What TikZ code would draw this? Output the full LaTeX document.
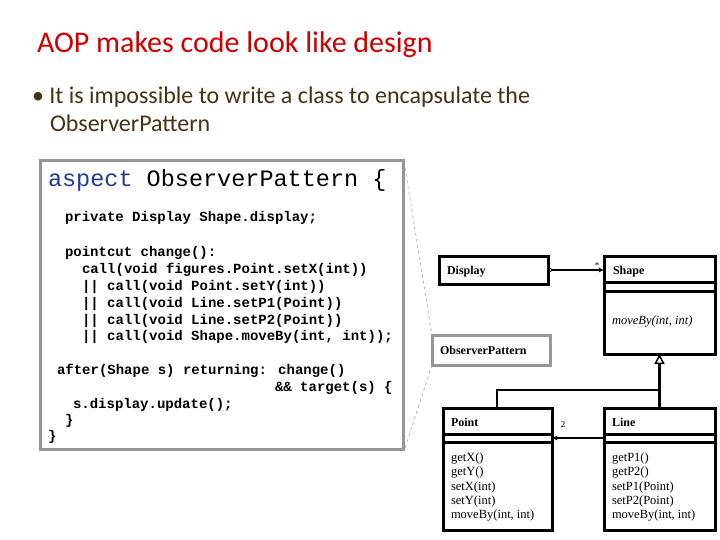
\documentclass[tikz,border=0pt]{standalone}
\usepackage{fontspec}
\usepackage{tikz}
\usetikzlibrary{arrows.meta, positioning}
\setmainfont{Carlito}
\newfontfamily\codefont{Liberation Mono}
\newfontfamily\umlfont{Liberation Serif}
\definecolor{aoptitle}{RGB}{204, 0, 0}
\definecolor{aoptext}{RGB}{72, 50, 20}
\definecolor{aopkey}{RGB}{30, 60, 150}
\definecolor{aopgray}{RGB}{150, 150, 150}

\begin{document}
\begin{tikzpicture}[
    x=1pt, y=-1pt,
    every node/.style={inner sep=0pt, outer sep=0pt},
    codeline/.style={anchor=base west, font=\codefont\bfseries\fontsize{14}{16}\selectfont},
    umlbox/.style={draw, line width=3pt, anchor=north west},
    umltext/.style={anchor=base west, font=\umlfont\fontsize{12.5}{14.3}\selectfont},
    umlname/.style={umltext, font=\umlfont\bfseries\fontsize{12}{14}\selectfont},
    assoc/.style={line width=2.5pt, {Diamond[open, length=5pt, width=4pt, line width=0.8pt]}-{Latex[length=5pt, width=5pt]}},
    navig/.style={line width=2.5pt, -{Latex[length=5pt, width=5pt]}},
    gen/.style={line width=2.5pt, -{Triangle[open, length=10pt, width=10pt, line width=1.5pt]}},
    note/.style={aopgray, dashed, line width=0.5pt}
]
\useasboundingbox (0,0) rectangle (720,540);

% Title and bullet
\node[anchor=base west, text=aoptitle, font=\fontsize{30}{34}\selectfont] (title) at (37,53) {AOP makes code look like design};
\node[anchor=base west, text=aoptext, font=\fontsize{24}{28}\selectfont] (bullet) at (32,104) {\textbullet\ It is impossible to write a class to encapsulate the};
\node[anchor=base west, text=aoptext, font=\fontsize{24}{28}\selectfont] (bullet2) at (50,132) {ObserverPattern};

% Aspect code
\node[draw=aopgray, line width=3pt, fill=white, anchor=north west, minimum width=363pt, minimum height=288pt] (code) at (40,161) {};
\node[anchor=base west, font=\codefont\fontsize{23.5}{26}\selectfont] (head) at (48,187) {\textcolor{aopkey}{aspect} ObserverPattern \{};
\node[codeline] (c1) at (65,222) {private Display Shape.display;};
\node[codeline] (c2) at (65,256) {pointcut change():};
\node[codeline] (c3) at (82,273) {call(void figures.Point.setX(int))};
\node[codeline] (c4) at (82,290) {|| call(void Point.setY(int))};
\node[codeline] (c5) at (82,307) {|| call(void Line.setP1(Point))};
\node[codeline] (c6) at (82,324) {|| call(void Line.setP2(Point))};
\node[codeline] (c7) at (82,340) {|| call(void Shape.moveBy(int, int));};
\node[codeline] (c8) at (57,374) {after(Shape s) returning: change()};
\node[codeline] (c9) at (275,391) {\&\& target(s) \{};
\node[codeline] (c10) at (73,408) {s.display.update();};
\node[codeline] (c11) at (65,424) {\}};
\node[codeline] (c12) at (48,440) {\}};

% Class diagram
\node[umlbox, minimum width=109pt, minimum height=28pt] (display) at (439,256) {};
\node[umlname] (displayname) at (447,274) {Display};

\node[umlbox, minimum width=111pt, minimum height=98pt] (shape) at (604,256) {};
\draw[line width=3pt] (shape.north west) ++(0,26) -- ++(111,0);
\draw[line width=3pt] (shape.north west) ++(0,35) -- ++(111,0);
\node[umlname] (shapename) at (613,274) {Shape};
\node[umltext, font=\umlfont\itshape\fontsize{12.5}{14}\selectfont] (shapeop) at (612,324) {moveBy(int, int)};

\node[draw=aopgray, line width=3pt, anchor=north west, minimum width=118pt, minimum height=30pt] (observer) at (432,335) {};
\node[umlname] (observername) at (440,354) {ObserverPattern};

\node[umlbox, minimum width=109pt, minimum height=122pt] (point) at (443,408) {};
\draw[line width=3pt] (point.north west) ++(0,26) -- ++(109,0);
\draw[line width=3pt] (point.north west) ++(0,34) -- ++(109,0);
\node[umlname] (pointname) at (451,426) {Point};
\node[umltext, align=left, anchor=north west] (pointops) at (451,453) {getX()\\getY()\\setX(int)\\setY(int)\\moveBy(int, int)};

\node[umlbox, minimum width=111pt, minimum height=122pt] (line) at (604,408) {};
\draw[line width=3pt] (line.north west) ++(0,26) -- ++(111,0);
\draw[line width=3pt] (line.north west) ++(0,34) -- ++(111,0);
\node[umlname] (linename) at (612,426) {Line};
\node[umltext, align=left, anchor=north west] (lineops) at (612,453) {getP1()\\getP2()\\setP1(Point)\\setP2(Point)\\moveBy(int, int)};

% Connectors
\coordinate (disp-out) at (548,270);
\coordinate (shape-in) at (604,270);
\draw[assoc] (disp-out) -- (shape-in);
\node[font=\umlfont\fontsize{9}{10}\selectfont] (many) at (597,266) {*};

\coordinate (branch) at (659,390);
\draw[line width=2.5pt] (point.north -| 497,0) |- (branch);
\draw[gen] (line.north) -- (shape.south);

\coordinate (line-out) at (604,438);
\coordinate (point-in) at (552,438);
\draw[navig] (line-out) -- (point-in);
\node[font=\umlfont\fontsize{9}{10}\selectfont] (two) at (563,425) {2};

% Note links
\coordinate (code-ne) at (405,168);
\coordinate (code-se) at (405,448);
\draw[note] (code-ne) -- (observer.north west);
\draw[note] (observer.south west) -- (code-se);

\end{tikzpicture}
\end{document}
